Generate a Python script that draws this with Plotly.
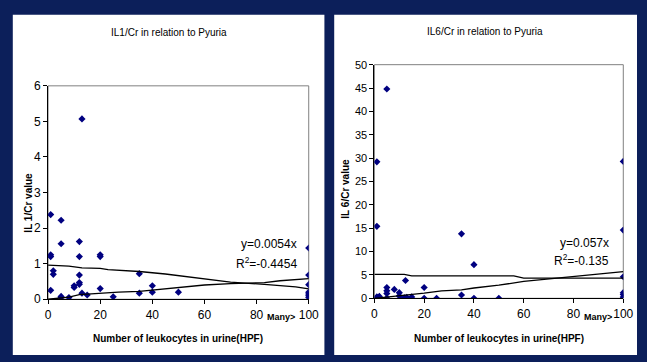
import plotly.graph_objects as go

W, H = 647, 362

# IL-1/Cr panel
il1_x = [1, 1, 1, 2, 2, 1, 5, 5, 5, 5, 8, 10, 10, 12, 12, 12, 12, 12, 13, 13, 15,
         20, 20, 20, 25, 35, 35, 40, 40, 50, 100, 100, 100, 100, 100, 100, 100]
il1_y = [2.38, 1.25, 1.2, 0.8, 0.7, 0.25, 2.22, 1.56, 0.08, 0.05, 0.05, 0.38, 0.33,
         1.62, 1.2, 0.68, 0.47, 0.42, 5.07, 0.17, 0.12, 1.25, 1.2, 0.3, 0.07, 0.72,
         0.17, 0.38, 0.2, 0.2, 1.44, 0.68, 0.41, 0.2, 0.15, 0.1, 0.05]
il1_fit_x = [0, 8, 12, 20, 27, 35, 43, 50, 60, 70, 83, 89, 100]
il1_fit_y = [0, 0.06, 0.13, 0.17, 0.2, 0.22, 0.28, 0.32, 0.4, 0.44, 0.47, 0.52, 0.58]
il1_avg_x = [0, 8, 13, 20, 23, 35, 45, 58, 70, 83, 95, 100]
il1_avg_y = [0.96, 0.93, 0.88, 0.87, 0.83, 0.78, 0.71, 0.6, 0.48, 0.42, 0.35, 0.29]

# IL-6/Cr panel
il6_x = [5, 1, 1, 1, 2, 1.5, 5, 5, 5, 5, 8, 10, 10, 12, 12, 13, 12.5, 15, 20, 20, 25,
         35, 35, 40, 40, 50, 100, 100, 100, 100, 100, 100, 100]
il6_y = [44.8, 29.2, 15.4, 0.3, 0.4, 0.2, 2.3, 1.6, 1.0, 0, 1.9, 1.2, 0.5, 0.1, 0, 0.2,
         3.8, 0.3, 2.3, 0, 0, 13.8, 0.7, 7.2, 0, 0, 29.3, 14.6, 4.6, 1.2, 0.8, 0.3, 0]
il6_fit_x = [0, 12, 20, 27, 35, 40, 50, 60, 69, 82, 100]
il6_fit_y = [0, 0.6, 1.1, 1.6, 1.8, 2.2, 2.8, 3.6, 4.1, 4.8, 5.7]
il6_avg_x = [0, 12, 15, 56, 60, 100]
il6_avg_y = [5.1, 5.1, 4.8, 4.8, 4.3, 4.3]

x_ticks = [0, 20, 40, 60, 80, 100]
x_ticktext = ["0", "20", "40", "60", "80", "100"]

FONT = "Liberation Sans Narrow, Arial Narrow, Liberation Sans, Arial, sans-serif"
NAVY = "#0C1F5A"
MARKER = "#000080"


def px(x):
    return x / W


def py(y):
    return 1 - y / H


fig = go.Figure()

for xs, ys, ax in [(il1_x, il1_y, "1"), (il6_x, il6_y, "2")]:
    fig.add_trace(go.Scatter(x=xs, y=ys, mode="markers", xaxis="x" + ax, yaxis="y" + ax,
                             marker=dict(symbol="diamond", size=5.5, color=MARKER),
                             showlegend=False))

for xs, ys, ax in [(il1_fit_x, il1_fit_y, "1"), (il1_avg_x, il1_avg_y, "1"),
                   (il6_fit_x, il6_fit_y, "2"), (il6_avg_x, il6_avg_y, "2")]:
    fig.add_trace(go.Scatter(x=xs, y=ys, mode="lines", xaxis="x" + ax, yaxis="y" + ax,
                             line=dict(color="black", width=1.3), showlegend=False))


def axis_style(size):
    return dict(showgrid=False, zeroline=False, showline=True, linecolor="black",
                linewidth=1, ticks="outside", ticklen=4, tickcolor="black",
                tickfont=dict(family=FONT, size=size, color="black"))


fig.update_layout(
    width=W, height=H,
    margin=dict(l=0, r=0, t=0, b=0),
    paper_bgcolor=NAVY,
    plot_bgcolor="#C0C0C0",
    font=dict(family=FONT, color="black"),
    xaxis1=dict(domain=[px(46), px(312)], range=[0, 100], anchor="y1",
                tickvals=x_ticks, ticktext=x_ticktext, **axis_style(12)),
    yaxis1=dict(domain=[py(304), py(82)], range=[0, 6], anchor="x1", dtick=1,
                **axis_style(12)),
    xaxis2=dict(domain=[px(379), px(633)], range=[0, 100], anchor="y2",
                tickvals=x_ticks, ticktext=x_ticktext, **axis_style(12)),
    yaxis2=dict(domain=[py(303), py(60)], range=[0, 50], anchor="x2", dtick=5,
                **axis_style(11)),
)

# white chart panels
fig.add_shape(type="rect", xref="paper", yref="paper", x0=px(10), x1=px(328),
              y0=0, y1=py(8), fillcolor="white", line_width=0, layer="below")
fig.add_shape(type="rect", xref="paper", yref="paper", x0=px(338), x1=1,
              y0=0, y1=py(8), fillcolor="white", line_width=0, layer="below")

# grey plot-area border
for ax in ["", "2"]:
    fig.add_shape(type="rect", xref="x" + ax + " domain", yref="y" + ax + " domain",
                  x0=0, x1=1, y0=0, y1=1, line=dict(color="#808080", width=1),
                  layer="below")


def note(x, y, text, size=11, bold=False, angle=0, xanchor="center"):
    fig.add_annotation(x=px(x), y=py(y), xref="paper", yref="paper", text=text,
                       showarrow=False, textangle=angle, xanchor=xanchor,
                       yanchor="middle",
                       font=dict(family=FONT, size=size, color="black",
                                 weight="bold" if bold else "normal"))


note(169, 27, "IL1/Cr in relation to Pyuria", size=10)
note(492, 25, "IL6/Cr in relation to Pyuria", size=10)
note(26, 203, "IL 1/Cr value", size=10, bold=True, angle=-90)
note(350, 189, "IL 6/Cr value", size=10, bold=True, angle=-90)
note(179, 345, "Number of leukocytes in urine(HPF)", size=10, bold=True)
note(506, 345, "Number of leukocytes in urine(HPF)", size=10, bold=True)
note(300, 322, "Many>", size=9, bold=True, xanchor="right")
note(624, 322, "Many>", size=9, bold=True, xanchor="right")
note(302, 247, "y=0.0054x", size=12, xanchor="right")
note(302, 266, "R<sup>2</sup>=-0.4454", size=12, xanchor="right")
note(620, 245, "y=0.057x", size=12, xanchor="right")
note(620, 263, "R<sup>2</sup>=-0.135", size=12, xanchor="right")

# drop the default page margin so the figure fills the window
fig.write_html("out.html", config={"displayModeBar": False},
               post_script="document.body.style.margin='0';")
